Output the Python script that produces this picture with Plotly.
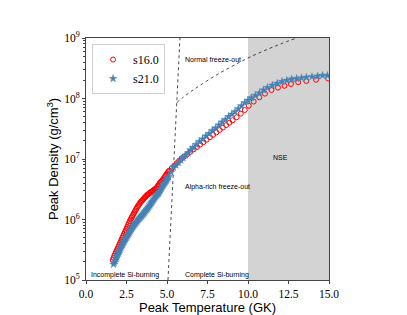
import numpy as np
import plotly.graph_objects as go

# s16.0 : peak temperature (GK) and log10 peak density (g/cm^3)
s16_T = [1.65, 1.70, 1.75, 1.80, 1.85, 1.90, 1.95, 2.00, 2.05, 2.10, 2.15, 2.20,
         2.25, 2.30, 2.35, 2.40, 2.45, 2.50, 2.55, 2.60, 2.65, 2.70, 2.75, 2.80,
         2.85, 2.90, 2.95, 3.00, 3.05, 3.10, 3.15, 3.20, 3.25, 3.30, 3.35, 3.40,
         3.45, 3.50, 3.55, 3.60, 3.65, 3.70, 3.75, 3.80, 3.85, 3.90, 3.95, 4.00,
         4.05, 4.10, 4.15, 4.20, 4.25, 4.30, 4.35, 4.40, 4.45, 4.50, 4.55, 4.60,
         4.65, 4.70, 4.75, 4.80, 4.85, 4.90, 4.95, 5.00, 5.05, 5.10, 5.15,
         5.30, 5.45, 5.60, 5.75, 5.90, 6.05, 6.25, 6.45, 6.65, 6.85, 7.05, 7.25,
         7.45, 7.65, 7.85, 8.05, 8.25, 8.45, 8.65, 8.85, 9.05, 9.30, 9.55, 9.80,
         10.05, 10.35, 10.70, 11.05, 11.45, 11.85, 12.25, 12.65, 13.10, 13.60,
         14.20, 14.95]
s16_logrho = [5.33, 5.365, 5.40, 5.43, 5.46, 5.49, 5.52, 5.55, 5.58, 5.61, 5.64, 5.67,
              5.70, 5.73, 5.76, 5.79, 5.82, 5.85, 5.88, 5.91, 5.94, 5.97, 6.00, 6.025,
              6.05, 6.075, 6.10, 6.125, 6.15, 6.175, 6.20, 6.22, 6.24, 6.26, 6.28, 6.295,
              6.31, 6.325, 6.34, 6.355, 6.37, 6.385, 6.40, 6.41, 6.42, 6.43, 6.44, 6.45,
              6.46, 6.47, 6.48, 6.49, 6.50, 6.51, 6.52, 6.54, 6.56, 6.58, 6.60, 6.615,
              6.63, 6.645, 6.66, 6.68, 6.70, 6.72, 6.74, 6.76, 6.78, 6.795, 6.81,
              6.85, 6.89, 6.93, 6.97, 7.01, 7.04, 7.08, 7.12, 7.16, 7.20, 7.24, 7.28,
              7.32, 7.36, 7.40, 7.44, 7.48, 7.52, 7.56, 7.60, 7.64, 7.69, 7.75, 7.81,
              7.88, 7.95, 8.02, 8.08, 8.14, 8.18, 8.21, 8.24, 8.27, 8.29,
              8.31, 8.33]

# s21.0
s21_T = [1.70, 1.75, 1.80, 1.85, 1.90, 1.95, 2.00, 2.05, 2.10, 2.15, 2.20, 2.25,
         2.30, 2.35, 2.40, 2.45, 2.50, 2.55, 2.60, 2.65, 2.70, 2.75, 2.80, 2.85,
         2.90, 2.95, 3.00, 3.05, 3.10, 3.15, 3.20, 3.25, 3.30, 3.35, 3.40, 3.45,
         3.50, 3.55, 3.60, 3.65, 3.70, 3.75, 3.80, 3.85, 3.90, 3.95, 4.00, 4.05,
         4.10, 4.15, 4.20, 4.25, 4.30, 4.35, 4.40, 4.45, 4.50, 4.55, 4.60, 4.65,
         4.70, 4.75, 4.80, 4.85, 4.90, 4.95, 5.00, 5.05, 5.10, 5.25,
         5.40, 5.55, 5.70, 5.85, 6.00, 6.15, 6.30, 6.45, 6.60, 6.80, 7.00, 7.20,
         7.40, 7.60, 7.80, 8.00, 8.20, 8.40, 8.60, 8.80, 9.00, 9.20, 9.40, 9.60,
         9.80, 10.00, 10.20, 10.45, 10.70, 10.95, 11.20, 11.50, 11.80, 12.10,
         12.40, 12.70, 13.00, 13.30, 13.60, 13.95, 14.30, 14.60, 14.90]
s21_logrho = [5.26, 5.29, 5.32, 5.35, 5.38, 5.41, 5.44, 5.47, 5.50, 5.53, 5.56, 5.585,
              5.61, 5.635, 5.66, 5.68, 5.70, 5.725, 5.75, 5.77, 5.79, 5.815, 5.84, 5.86,
              5.88, 5.90, 5.92, 5.935, 5.95, 5.97, 5.99, 6.005, 6.02, 6.035, 6.05, 6.065,
              6.08, 6.095, 6.11, 6.13, 6.15, 6.165, 6.18, 6.20, 6.22, 6.24, 6.26, 6.28,
              6.30, 6.32, 6.34, 6.36, 6.38, 6.395, 6.41, 6.425, 6.44, 6.465, 6.49, 6.515,
              6.54, 6.56, 6.58, 6.60, 6.62, 6.64, 6.66, 6.685, 6.71, 6.78,
              6.86, 6.90, 6.94, 6.98, 7.02, 7.06, 7.10, 7.15, 7.19, 7.24, 7.29, 7.33,
              7.38, 7.42, 7.47, 7.51, 7.56, 7.61, 7.65, 7.70, 7.74, 7.78, 7.83, 7.88,
              7.93, 7.97, 8.01, 8.05, 8.09, 8.14, 8.18, 8.22, 8.25, 8.28,
              8.30, 8.32, 8.33, 8.34, 8.35, 8.36, 8.37, 8.38, 8.38]

# boundary lines
boundary_T = [5.06, 5.80]
boundary_logrho = [5.0, 9.0]
normal_T = [5.6, 6.0, 6.5, 7.0, 8.0, 9.0, 10.0, 11.0, 12.0, 13.0]
normal_logrho = [7.93, 8.02, 8.12, 8.21, 8.38, 8.53, 8.67, 8.79, 8.90, 9.0]

x_ticks = [0.0, 2.5, 5.0, 7.5, 10.0, 12.5, 15.0]
x_ticklabels = ["0.0", "2.5", "5.0", "7.5", "10.0", "12.5", "15.0"]
y_tickvals = [1e5, 1e6, 1e7, 1e8, 1e9]
y_ticklabels = ["10<sup>5</sup>", "10<sup>6</sup>", "10<sup>7</sup>", "10<sup>8</sup>", "10<sup>9</sup>"]
y_minor = [m * 10.0 ** e for e in range(5, 9) for m in range(2, 10)]

fig = go.Figure()

fig.add_shape(type="rect", xref="x", yref="paper", x0=10, x1=15, y0=0, y1=1,
              fillcolor="#d3d3d3", line_width=0, layer="below")

fig.add_trace(go.Scatter(x=boundary_T, y=np.power(10.0, boundary_logrho), mode="lines",
                         line=dict(color="black", width=0.7, dash="dot"),
                         showlegend=False, hoverinfo="skip"))
fig.add_trace(go.Scatter(x=normal_T, y=np.power(10.0, normal_logrho), mode="lines",
                         line=dict(color="black", width=0.7, dash="dot", shape="spline"),
                         showlegend=False, hoverinfo="skip"))

fig.add_trace(go.Scatter(x=s16_T, y=np.power(10.0, s16_logrho), mode="markers", name="s16.0",
                         marker=dict(symbol="circle-open", size=5, color="red",
                                     line=dict(width=1, color="red"))))
fig.add_trace(go.Scatter(x=s21_T, y=np.power(10.0, s21_logrho), mode="markers", name="s21.0",
                         marker=dict(symbol="star", size=6, color="steelblue",
                                     line=dict(width=0.3, color="steelblue"))))

ann_font = dict(family="Liberation Sans", size=7, color="black")
annotations = [
    dict(x=6.0, y=8.64, text="Normal freeze-out", xanchor="left"),
    dict(x=6.0, y=6.54, text="Alpha-rich freeze-out", xanchor="left"),
    dict(x=12.0, y=7.03, text="NSE", xanchor="center"),
    dict(x=2.4, y=5.08, text="Incomplete Si-burning", xanchor="center"),
    dict(x=6.0, y=5.08, text="Complete Si-burning", xanchor="left"),
]
for a in annotations:
    fig.add_annotation(x=a["x"], y=a["y"], text=a["text"], xanchor=a["xanchor"],
                       yanchor="middle", showarrow=False, font=ann_font, xref="x", yref="y")

axis_common = dict(showline=True, linecolor="#444", linewidth=1, mirror=True,
                   showgrid=False, zeroline=False, ticks="outside", ticklen=3,
                   tickcolor="#444", automargin=False,
                   tickfont=dict(family="Liberation Serif", size=11.5, color="black"))

fig.update_xaxes(range=[0, 15], tickvals=x_ticks, ticktext=x_ticklabels,
                 title=dict(text="Peak Temperature (GK)", standoff=0,
                            font=dict(family="Liberation Sans", size=13, color="black")),
                 **axis_common)
fig.update_yaxes(type="log", range=[5, 9], tickvals=y_tickvals, ticktext=y_ticklabels,
                 minor=dict(ticks="outside", ticklen=2, tickcolor="#444", showgrid=False,
                            tickvals=y_minor),
                 title=dict(text="Peak Density (g/cm<sup>3</sup>)", standoff=2,
                            font=dict(family="Liberation Sans", size=13, color="black")),
                 **axis_common)

# the page body adds an 8px offset, so the figure is shrunk and margins shifted
fig.update_layout(
    width=399, height=307,
    margin=dict(l=78, r=78, t=30, b=35),
    plot_bgcolor="white", paper_bgcolor="white",
    showlegend=True,
    legend=dict(x=0.025, y=0.975, xanchor="left", yanchor="top",
                bgcolor="white", bordercolor="#d0d0d0", borderwidth=1,
                font=dict(family="Liberation Serif", size=12, color="black"),
                itemsizing="trace", tracegroupgap=0, itemwidth=30),
)

fig.write_html("out.html")
